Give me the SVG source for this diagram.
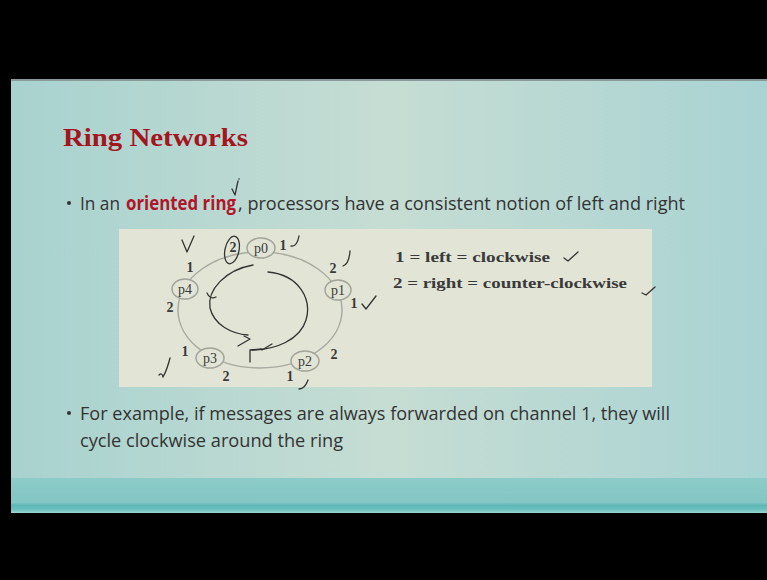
<svg xmlns="http://www.w3.org/2000/svg" width="767" height="580" viewBox="0 0 767 580">
<defs>
<linearGradient id="bg" x1="0" y1="0" x2="1" y2="0">
<stop offset="0" stop-color="#a8d2cf"/>
<stop offset="0.5" stop-color="#c6ddd3"/>
<stop offset="1" stop-color="#a9d3d3"/>
</linearGradient>
<linearGradient id="band" x1="0" y1="0" x2="0" y2="1">
<stop offset="0" stop-color="#8ccbc8"/>
<stop offset="0.7" stop-color="#84c6c4"/>
<stop offset="0.78" stop-color="#5db7b6"/>
<stop offset="0.9" stop-color="#6cc0bd"/>
<stop offset="1" stop-color="#9fd4d0"/>
</linearGradient>
<style>
.body{font-family:"Open Sans","Liberation Sans",sans-serif;font-size:19px;fill:#333333}
.red{font-family:"Open Sans","Liberation Sans",sans-serif;font-size:19px;font-weight:bold;fill:#b0152a}
.tnr{font-family:"Liberation Serif",serif;font-size:14px;fill:#3a3a3a}
.leg{font-family:"Liberation Serif",serif;font-size:15px;font-weight:bold;fill:#3a3a3a}
.node ellipse{fill:#e2e5d6;stroke:#a3a59c;stroke-width:1.5}
.ring{fill:none;stroke:#a8aaa0;stroke-width:1.5}
.ink{fill:none;stroke:#333333;stroke-width:1.3;stroke-linecap:round;stroke-linejoin:round}
</style>
</defs>
<rect x="0" y="0" width="767" height="580" fill="#000000"/>
<rect x="11" y="79" width="756" height="434" fill="url(#bg)"/>
<rect x="11" y="79" width="756" height="2" fill="#8a9a98"/>
<rect x="11" y="478" width="756" height="35" fill="url(#band)"/>

<text x="63" y="146" font-family="Liberation Serif,serif" font-size="25" font-weight="bold" fill="#a3151f" textLength="185" lengthAdjust="spacingAndGlyphs">Ring Networks</text>

<circle cx="69" cy="203" r="2" fill="#333333"/>
<text class="body" x="80" y="210" textLength="40" lengthAdjust="spacingAndGlyphs">In an</text>
<text class="red" x="126" y="210" textLength="110" lengthAdjust="spacingAndGlyphs">oriented ring</text>
<text class="body" x="238" y="210" textLength="447" lengthAdjust="spacingAndGlyphs">, processors have a consistent notion of left and right</text>
<path class="ink" d="M232 189 L235 195 L238 181" stroke-width="1"/>
<circle cx="239" cy="179" r="0.8" fill="#333333"/>

<rect x="119" y="229" width="533" height="158" fill="#e2e5d6"/>

<g id="connectors">
<ellipse class="ring" cx="260" cy="310" rx="82" ry="58"/>
</g>

<g id="p0" class="node"><ellipse cx="261" cy="248" rx="14" ry="10"/><text class="tnr" x="261" y="253" text-anchor="middle">p0</text></g>
<g id="p1" class="node"><ellipse cx="338" cy="290" rx="13" ry="10"/><text class="tnr" x="338" y="295" text-anchor="middle">p1</text></g>
<g id="p2" class="node"><ellipse cx="305" cy="361" rx="14" ry="10"/><text class="tnr" x="305" y="366" text-anchor="middle">p2</text></g>
<g id="p3" class="node"><ellipse cx="210" cy="358" rx="14" ry="10"/><text class="tnr" x="210" y="363" text-anchor="middle">p3</text></g>
<g id="p4" class="node"><ellipse cx="185" cy="289" rx="13" ry="10"/><text class="tnr" x="185" y="294" text-anchor="middle">p4</text></g>

<g id="labels" class="tnr" font-weight="bold">
<text class="tnr" x="233" y="252" text-anchor="middle">2</text>
<text class="tnr" x="283" y="250" text-anchor="middle">1</text>
<text class="tnr" x="333" y="273" text-anchor="middle">2</text>
<text class="tnr" x="354" y="308" text-anchor="middle">1</text>
<text class="tnr" x="334" y="359" text-anchor="middle">2</text>
<text class="tnr" x="290" y="381" text-anchor="middle">1</text>
<text class="tnr" x="226" y="381" text-anchor="middle">2</text>
<text class="tnr" x="185" y="356" text-anchor="middle">1</text>
<text class="tnr" x="170" y="312" text-anchor="middle">2</text>
<text class="tnr" x="190" y="272" text-anchor="middle">1</text>
</g>

<text class="leg" x="395" y="262" textLength="155" lengthAdjust="spacingAndGlyphs">1 = left = clockwise</text>
<text class="leg" x="393" y="288" textLength="234" lengthAdjust="spacingAndGlyphs">2 = right = counter-clockwise</text>

<g id="annotations" class="ink">
<ellipse cx="232" cy="250" rx="7" ry="14" transform="rotate(12 232 250)"/>
<path d="M182 240 L187 252 L194 236"/>
<path d="M291 246 Q297 247 299 236"/>
<path d="M343 266 Q349 264 350 251"/>
<path d="M362 304 L366 309 L376 296"/>
<path d="M159 375 Q162 372 163 377 Q167 370 170 358"/>
<path d="M299 389 Q305 389 308 380"/>
<path d="M564 258 L568 261 L578 252"/>
<path d="M642 293 L646 295 L655 287"/>
<path d="M253 265 C225 270 207 290 210 308 C214 325 232 334 248 335"/>
<path d="M207 293 Q210 300 216 297"/>
<path d="M238 346 L250 339 L244 336"/>
<path d="M268 272 C300 275 312 300 306 320 C300 340 275 350 252 350"/>
<path d="M250 362 L250 350 L262 349"/>
<path d="M262 350 L272 344"/>
</g>

<circle cx="69" cy="413" r="2" fill="#333333"/>
<text class="body" x="80" y="420" textLength="590" lengthAdjust="spacingAndGlyphs">For example, if messages are always forwarded on channel 1, they will</text>
<text class="body" x="80" y="447" textLength="263" lengthAdjust="spacingAndGlyphs">cycle clockwise around the ring</text>
</svg>
